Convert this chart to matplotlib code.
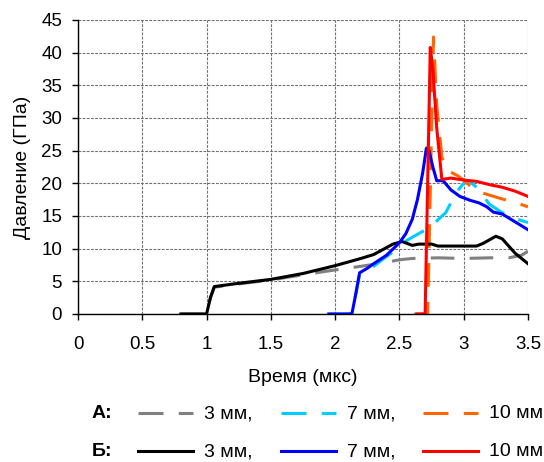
import matplotlib
matplotlib.use("Agg")
import matplotlib.pyplot as plt
from matplotlib.lines import Line2D

plt.rcParams['font.family'] = ['Liberation Sans', 'DejaVu Sans']
plt.rcParams['lines.scale_dashes'] = False

# ---- data (time in mks, pressure in GPa) ----
gray_t = [0.8, 1.0, 1.03, 1.06, 1.25, 1.5, 1.75, 1.95, 2.2, 2.4, 2.5, 2.6, 2.8, 3.0, 3.2, 3.35, 3.45, 3.5]
gray_p = [0, 0, 2.5, 4.1, 4.6, 5.2, 6.0, 6.6, 7.3, 7.9, 8.3, 8.5, 8.6, 8.5, 8.6, 8.6, 9.0, 9.6]

cyan_t = [1.95, 2.12, 2.16, 2.19, 2.3, 2.4, 2.5, 2.56, 2.65, 2.74, 2.82, 2.86, 2.9, 2.95, 3.0, 3.05, 3.1, 3.2, 3.3, 3.4, 3.5]
cyan_p = [0, 0, 3.0, 6.0, 7.3, 8.8, 10.2, 11.3, 12.3, 13.3, 14.8, 15.5, 17.0, 18.8, 20.0, 20.2, 19.4, 16.8, 15.5, 14.6, 14.0]

orange_t = [2.63, 2.72, 2.765, 2.79, 2.83, 2.87, 2.95, 3.0, 3.05, 3.1, 3.2, 3.3, 3.4, 3.5]
orange_p = [0, 0, 42.4, 32, 24, 22.0, 21.2, 20.5, 19.6, 18.8, 18.2, 17.6, 17.1, 16.4]

black_t = [0.8, 1.0, 1.03, 1.06, 1.1, 1.25, 1.5, 1.75, 2.0, 2.2, 2.3, 2.45, 2.52, 2.6, 2.65, 2.75, 2.8, 2.9, 3.1, 3.15, 3.25, 3.3, 3.4, 3.5]
black_p = [0, 0, 2.5, 4.2, 4.3, 4.7, 5.3, 6.2, 7.4, 8.5, 9.1, 10.7, 11.1, 10.5, 10.7, 10.7, 10.4, 10.4, 10.4, 10.8, 11.9, 11.5, 9.3, 7.7]

blue_t = [1.95, 2.13, 2.16, 2.19, 2.25, 2.3, 2.4, 2.5, 2.55, 2.6, 2.64, 2.68, 2.71, 2.73, 2.76, 2.79, 2.84, 2.9, 2.97, 3.05, 3.12, 3.18, 3.23, 3.3, 3.4, 3.5]
blue_p = [0, 0, 3.0, 6.3, 7.0, 7.7, 9.0, 10.9, 12.3, 14.5, 17.5, 21.5, 25.4, 25.0, 22.5, 20.4, 20.4, 19.0, 18.0, 17.4, 17.0, 16.4, 15.6, 15.3, 14.1, 12.9]

red_t = [2.63, 2.70, 2.74, 2.76, 2.79, 2.83, 2.9, 3.0, 3.1, 3.2, 3.3, 3.4, 3.5]
red_p = [0, 0, 40.8, 37.5, 28.5, 20.6, 20.8, 20.5, 20.3, 19.8, 19.4, 18.8, 18.0]

x_ticks = [0, 0.5, 1, 1.5, 2, 2.5, 3, 3.5]
x_labels = ['0', '0.5', '1', '1.5', '2', '2.5', '3', '3.5']
y_ticks = [0, 5, 10, 15, 20, 25, 30, 35, 40, 45]

C_GRAY, C_CYAN, C_ORANGE = '#808080', '#00CCFF', '#FF6600'
C_BLACK, C_BLUE, C_RED = '#000000', '#0000FF', '#FF0000'
DASH = (17, 11)

W, H = 544, 462
fig = plt.figure(figsize=(W / 100, H / 100), dpi=100)
ax = fig.add_axes([78 / W, 1 - 314 / H, (528 - 78) / W, (314 - 20) / H])

lw = 2.2
ax.plot(gray_t, gray_p, color=C_GRAY, lw=lw, dashes=DASH, zorder=3)
ax.plot(cyan_t, cyan_p, color=C_CYAN, lw=lw, dashes=DASH, zorder=3)
ax.plot(orange_t, orange_p, color=C_ORANGE, lw=lw, dashes=DASH, zorder=3)
ax.plot(black_t, black_p, color=C_BLACK, lw=lw, zorder=4)
ax.plot(blue_t, blue_p, color=C_BLUE, lw=lw, zorder=4)
ax.plot(red_t, red_p, color=C_RED, lw=lw, zorder=5)

ax.set_xlim(0, 3.5)
ax.set_ylim(0, 45)
ax.set_xticks(x_ticks)
ax.set_xticklabels(x_labels)
ax.set_yticks(y_ticks)
ax.grid(True, color='#707070', lw=0.8, linestyle=(0, (2, 1)), zorder=1)
for s in ['top', 'right']:
    ax.spines[s].set_visible(False)
for s in ['left', 'bottom']:
    ax.spines[s].set_linewidth(1.0)
    ax.spines[s].set_zorder(6)
ax.tick_params(axis='both', labelsize=13.5, length=4, width=1, direction='out')
ax.tick_params(axis='x', pad=12)
ax.tick_params(axis='y', pad=7.5)
ax.set_xlabel('Время (мкс)', fontsize=14, labelpad=11)
ax.set_ylabel('Давление (ГПа)', fontsize=14, labelpad=7)

# ---- manual legend ----
def fx(px):
    return px / W

def fy(py):
    return 1 - py / H

rows = [
    (413, 'А:', [(C_GRAY, True), (C_CYAN, True), (C_ORANGE, True)]),
    (451, 'Б:', [(C_BLACK, False), (C_BLUE, False), (C_RED, False)]),
]
labels = ['3 мм,', '7 мм,', '10 мм']
starts = [138, 281, 423]
for ypix, head, items in rows:
    fig.text(fx(92), fy(ypix), head, fontsize=14, fontweight='bold', va='center', ha='left')
    for (col, dashed), x0, lab in zip(items, starts, labels):
        kw = dict(dashes=(18, 11)) if dashed else {}
        fig.add_artist(Line2D([fx(x0), fx(x0 + 55)], [fy(ypix), fy(ypix)], color=col, lw=2.2,
                              transform=fig.transFigure, **kw))
        fig.text(fx(x0 + 66), fy(ypix + 1), lab, fontsize=14, va='center', ha='left')

fig.savefig('out.png', dpi=100)
